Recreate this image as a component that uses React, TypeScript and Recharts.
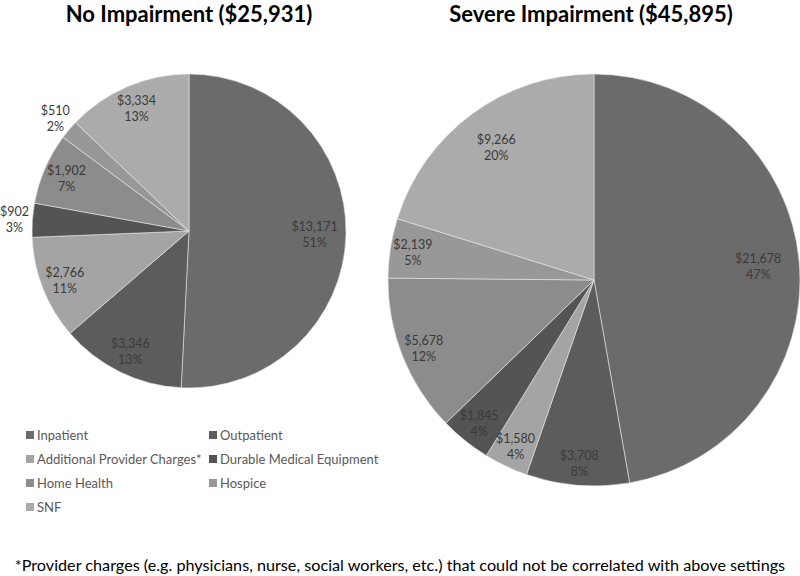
import React from "react";
import { PieChart, Pie, Cell } from "recharts";

const categories = [
  "Inpatient",
  "Outpatient",
  "Additional Provider Charges*",
  "Durable Medical Equipment",
  "Home Health",
  "Hospice",
  "SNF",
];
const noImpairmentValues = [13171, 3346, 2766, 902, 1902, 510, 3334];
const noImpairmentPct = ["51%", "13%", "11%", "3%", "7%", "2%", "13%"];
const severeValues = [21678, 3708, 1580, 1845, 5678, 2139, 9266];
const severePct = ["47%", "8%", "4%", "4%", "12%", "5%", "20%"];
const titles = ["No Impairment ($25,931)", "Severe Impairment ($45,895)"];
const footnote =
  "*Provider charges (e.g. physicians, nurse, social workers, etc.) that could not be correlated with above settings";

const colors = ["#6b6b6b", "#5c5c5c", "#a4a4a4", "#545454", "#8c8c8c", "#989898", "#ababab"];

const FONT = "Lato, 'Open Sans', sans-serif";
const RAD = Math.PI / 180;

const fmt = (v: number) => "$" + v.toLocaleString("en-US");

const buildData = (vals: number[], pcts: string[]) =>
  categories.map((name, i) => ({ name, value: vals[i], pct: pcts[i] }));

const makeLabel = (smallFactor: number) => (props: any) => {
  const { cx, cy, midAngle, outerRadius, percent, payload, index } = props;
  const inner = outerRadius * smallFactor;
  const arc = 2 * Math.PI * inner * percent;
  const outside = arc < 32;
  const r = outside ? outerRadius + 18 : percent > 0.15 ? outerRadius * 0.8 : inner;
  let x = cx + r * Math.cos(-midAngle * RAD);
  const y = cy + r * Math.sin(-midAngle * RAD);
  const halfW = fmt(payload.value).length * 3.3;
  if (x - halfW < 1) x = halfW + 1;
  return (
    <text
      key={"l" + index}
      x={x}
      y={y}
      textAnchor="middle"
      fill="#3a3a3a"
      fontSize={12.5}
      fontFamily={FONT}
    >
      <tspan x={x} dy={-3}>{fmt(payload.value)}</tspan>
      <tspan x={x} dy={16}>{payload.pct}</tspan>
    </text>
  );
};

export default function App() {
  const left = buildData(noImpairmentValues, noImpairmentPct);
  const right = buildData(severeValues, severePct);
  return (
    <div style={{ position: "absolute", left: 0, top: 0, width: 800, height: 576, background: "#fff", fontFamily: FONT }}>
      <PieChart
        width={800}
        height={576}
        margin={{ top: 0, right: 0, bottom: 0, left: 0 }}
        style={{ position: "absolute", left: 0, top: 0 }}
      >
        <Pie
          data={left}
          dataKey="value"
          nameKey="name"
          cx={189}
          cy={231}
          outerRadius={157}
          startAngle={90}
          endAngle={-270}
          isAnimationActive={false}
          labelLine={false}
          label={makeLabel(0.85)}
          stroke="#e6e6e6"
          strokeWidth={0.6}
        >
          {left.map((d, i) => (
            <Cell key={i} fill={colors[i]} />
          ))}
        </Pie>
        <Pie
          data={right}
          dataKey="value"
          nameKey="name"
          cx={594}
          cy={280}
          outerRadius={206}
          startAngle={90}
          endAngle={-270}
          isAnimationActive={false}
          labelLine={false}
          label={makeLabel(0.89)}
          stroke="#e6e6e6"
          strokeWidth={0.6}
        >
          {right.map((d, i) => (
            <Cell key={i} fill={colors[i]} />
          ))}
        </Pie>
      </PieChart>
      <div style={{ position: "absolute", left: 0, width: 378, top: 0, textAlign: "center", fontWeight: 700, fontSize: 22, color: "#000" }}>
        {titles[0]}
      </div>
      <div style={{ position: "absolute", left: 400, width: 382, top: 0, textAlign: "center", fontWeight: 700, fontSize: 22, color: "#000" }}>
        {titles[1]}
      </div>
      <div style={{ position: "absolute", left: 26, top: 426, width: 360 }}>
        {categories.map((c, i) => (
          <div
            key={c}
            style={{
              position: "absolute",
              left: i % 2 === 0 ? 0 : 183,
              top: Math.floor(i / 2) * 24,
              display: "flex",
              alignItems: "center",
              fontSize: 13,
              color: "#595959",
              whiteSpace: "nowrap",
              height: 18,
            }}
          >
            <span style={{ display: "inline-block", width: 8, height: 8, background: colors[i], marginRight: 3 }} />
            {c}
          </div>
        ))}
      </div>
      <div style={{ position: "absolute", left: 0, width: 800, top: 555, textAlign: "center", fontSize: 16.2, color: "#000", whiteSpace: "nowrap" }}>
        {footnote}
      </div>
    </div>
  );
}
